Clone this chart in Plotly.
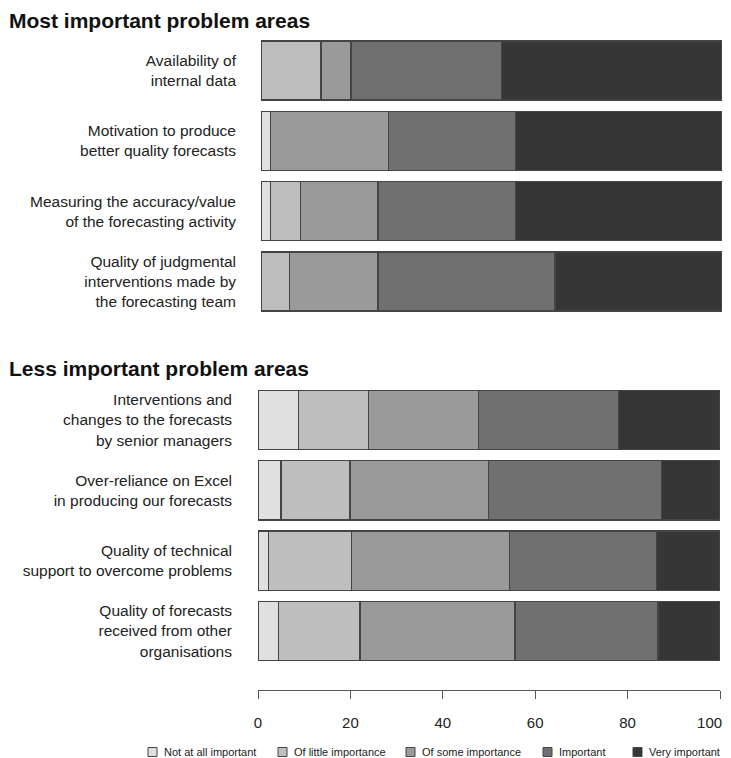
import plotly.graph_objects as go

levels = ["Not at all important", "Of little importance", "Of some importance", "Important", "Very important"]
colors = ["#e0e0e0", "#bebebe", "#9a9a9a", "#707070", "#363636"]

top_cats = ["Availability of<br>internal data",
            "Motivation to produce<br>better quality forecasts",
            "Measuring the accuracy/value<br>of the forecasting activity",
            "Quality of judgmental<br>interventions made by<br>the forecasting team"]
top_vals = {
    "Not at all important": [0, 2.0, 2.0, 0],
    "Of little importance": [13.0, 0, 6.5, 6.2],
    "Of some importance": [6.5, 25.6, 16.9, 19.2],
    "Important": [32.6, 27.6, 29.8, 38.4],
    "Very important": [47.9, 44.8, 44.8, 36.2],
}

bot_cats = ["Interventions and<br>changes to the forecasts<br>by senior managers",
            "Over-reliance on Excel<br>in producing our forecasts",
            "Quality of technical<br>support to overcome problems",
            "Quality of forecasts<br>received from other<br>organisations"]
bot_vals = {
    "Not at all important": [8.8, 5.0, 2.2, 4.4],
    "Of little importance": [15.1, 14.9, 18.1, 17.7],
    "Of some importance": [23.9, 30.0, 34.2, 33.5],
    "Important": [30.3, 37.5, 31.8, 31.0],
    "Very important": [21.9, 12.6, 13.7, 13.4],
}

x_ticks = [0, 20, 40, 60, 80, 100]
x_tick_labels = ["0", "20", "40", "60", "80", "100"]

# page offset (browser body margin)
OFF = 8
W, H = 731 - OFF, 758 - OFF


def px(x):
    return (x - OFF) / W


def py(y):
    return 1 - (y - OFF) / H


fig = go.Figure()
for lvl, col in zip(levels, colors):
    fig.add_trace(go.Bar(y=top_cats, x=top_vals[lvl], orientation="h", name=lvl,
                         marker=dict(color=col, line=dict(color="#444444", width=1.3)),
                         xaxis="x2", yaxis="y2", showlegend=False))
for lvl, col in zip(levels, colors):
    fig.add_trace(go.Bar(y=bot_cats, x=bot_vals[lvl], orientation="h", name=lvl,
                         marker=dict(color=col, line=dict(color="#444444", width=1.3)),
                         xaxis="x", yaxis="y", showlegend=False))

# manual legend (key squares + labels), laid out like the original
legend_x = [148, 278, 406, 543, 633]
shapes = []
annotations = []
for lvl, col, lx in zip(levels, colors, legend_x):
    shapes.append(dict(type="rect", xref="paper", yref="paper",
                       x0=px(lx), x1=px(lx + 9), y0=py(756.5), y1=py(747.5),
                       fillcolor=col, line=dict(color="#444444", width=1)))
    annotations.append(dict(text=lvl, x=px(lx + 14), y=py(752), xref="paper", yref="paper",
                            xanchor="left", yanchor="middle", showarrow=False,
                            font=dict(size=11, color="#222222")))

annotations += [
    dict(text="<b>Most important problem areas</b>", x=0, y=1, xref="paper", yref="paper",
         xanchor="left", yanchor="top", showarrow=False, borderpad=0,
         font=dict(size=21, color="#111111")),
    dict(text="<b>Less important problem areas</b>", x=0, y=py(368), xref="paper", yref="paper",
         xanchor="left", yanchor="middle", showarrow=False, borderpad=0,
         font=dict(size=21, color="#111111")),
]

# keep the last tick label inside the visible page edge
tick_text = [t if i < len(x_tick_labels) - 1 else t + "\u00a0" * 5
             for i, t in enumerate(x_tick_labels)]

fig.update_layout(
    width=W, height=H, barmode="stack", bargap=0.16,
    margin=dict(l=0, r=0, t=0, b=0, autoexpand=False),
    plot_bgcolor="white", paper_bgcolor="white",
    showlegend=False,
    font=dict(family="Liberation Sans, Arial, sans-serif", color="#222222"),
    xaxis=dict(domain=[px(258), px(720)], range=[0, 100], anchor="free", position=py(690),
               automargin=False,
               tickvals=x_ticks, ticktext=tick_text,
               ticks="outside", ticklen=8, tickcolor="#555555", tickwidth=1.3,
               showline=True, linecolor="#555555", linewidth=1.3, showgrid=False, zeroline=False,
               ticklabelstandoff=11, ticklabeloverflow="allow",
               tickfont=dict(size=15, color="#222222")),
    yaxis=dict(domain=[py(666.2), py(384.8)], anchor="x", autorange="reversed", automargin=False,
               showgrid=False, showline=False, ticks="", ticklabelstandoff=25,
               tickfont=dict(size=15.5, color="#222222")),
    xaxis2=dict(domain=[px(261), px(722)], range=[0, 100], anchor="y2", visible=False,
                automargin=False),
    yaxis2=dict(domain=[py(316.65), py(35.35)], anchor="x2", autorange="reversed", automargin=False,
                showgrid=False, showline=False, ticks="", ticklabelstandoff=24,
                tickfont=dict(size=15.5, color="#222222")),
    shapes=shapes,
    annotations=annotations,
)

fig.write_html("out.html")
